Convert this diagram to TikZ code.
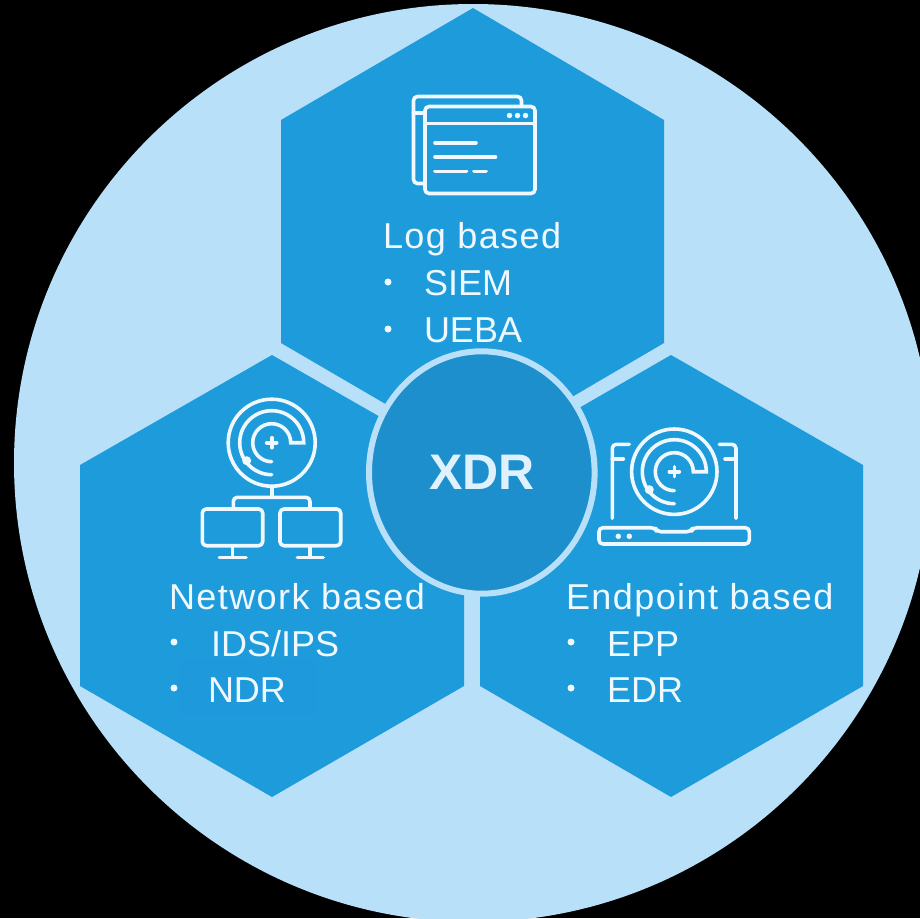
\documentclass[tikz,border=0pt]{standalone}
\usepackage{fontspec}
\usetikzlibrary{shapes.geometric}
\setmainfont{Liberation Sans}
\newfontfamily\titlefont[LetterSpace=4]{Liberation Sans}
\definecolor{bgblue}{HTML}{B8E0F8}
\definecolor{hexblue}{HTML}{1E9BDB}
\definecolor{hubblue}{HTML}{1C8FCC}
\definecolor{patchblue}{HTML}{1D99DC}
\definecolor{ink}{HTML}{EEF8FE}
\definecolor{hubink}{HTML}{DFF1FC}
\tikzset{
  hexcell/.style={fill=hexblue,draw=none},
  icon/.style={draw=ink,line width=3.6pt,line join=round,line cap=round,rounded corners=4pt},
  iconarc/.style={draw=ink,line width=3.6pt,line cap=round},
  label/.style={anchor=base west,text=ink,inner sep=0pt,outer sep=0pt,font=\fontsize{36}{40}\selectfont},
  title/.style={label,font=\titlefont\fontsize{36}{40}\selectfont},
  dotmark/.style={circle,fill=ink,draw=none,minimum size=7pt,inner sep=0pt},
  smalldot/.style={circle,fill=ink,draw=none,minimum size=5.5pt,inner sep=0pt},
}
\newcommand{\radaricon}[3]{%
  \begin{scope}[shift={(#1,#2)},y=1pt]
    \draw[iconarc] (0,0) circle (#3);
    \draw[iconarc] (0,-32) arc (-90:-180:32) arc (180:0:32) -- (19,0) arc (0:180:19) arc (180:270:19);
    \draw[iconarc] (-5,0) -- (5,0) (0,-5) -- (0,5);
    \fill[ink] (-25,-18) circle (4.5);
  \end{scope}}
\begin{document}
\begin{tikzpicture}[x=1pt,y=-1pt]
\useasboundingbox (0,0) rectangle (920,918);
\fill[black] (0,0) rectangle (920,918);
\begin{scope}
  \clip (0,0) rectangle (920,918);
  \fill[bgblue] (473,463) circle (459);
\end{scope}
% hexagons
\fill[hexcell] (473,8) -- (664,120) -- (664,343) -- (473,455) -- (281,343) -- (281,120) -- cycle;
\fill[hexcell] (272,355) -- (464,465) -- (464,686) -- (272,797) -- (80,686) -- (80,465) -- cycle;
\fill[hexcell] (671,355) -- (863,465) -- (863,686) -- (671,797) -- (480,686) -- (480,465) -- cycle;
\fill[patchblue] (178,660) rectangle (318,715);
% hub
\node[ellipse,minimum width=225.6pt,minimum height=242.4pt,inner sep=0pt,fill=hubblue,draw=bgblue,line width=6pt,text=hubink] (hub) at (481.8,472.5)
  {\fontsize{50}{54}\selectfont\bfseries XDR};
% log icon
\draw[icon] (425,113) -- (413.5,113);
\draw[icon] (521.5,106) -- (521.5,96.5) -- (413.5,96.5) -- (413.5,183.5) -- (425,183.5);
\draw[icon] (425,106.5) rectangle (535,193.5);
\draw[icon] (425,123.5) -- (535,123.5);
\node[smalldot] (d1) at (509.5,115.5) {};
\node[smalldot] (d2) at (517.5,115.5) {};
\node[smalldot] (d3) at (525.5,115.5) {};
\draw[icon] (435,142.7) -- (476,142.7) (435,157) -- (495.5,157) (435,171.3) -- (466.5,171.3) (474,171.3) -- (486,171.3);
% network icon
\radaricon{271.7}{442.7}{43.5}
\draw[icon] (271.7,486.5) -- (271.7,497.3);
\draw[icon] (233.3,507) -- (233.3,497.3) -- (310,497.3) -- (310,507);
\draw[icon] (202.3,509) rectangle (262.7,545.7);
\draw[icon] (280,509) rectangle (340.7,545.7);
\draw[icon] (232.3,546) -- (232.3,557.3) (219.3,557.3) -- (246,557.3);
\draw[icon] (310,546) -- (310,557.3) (297.3,557.3) -- (323.3,557.3);
% endpoint icon
\radaricon{674.3}{471.7}{42.7}
\draw[icon] (612.3,518.3) -- (612.3,444.3) -- (629.3,444.3);
\draw[icon] (612.3,459) -- (623.3,459);
\draw[icon] (736,518.3) -- (736,444.3) -- (719.3,444.3);
\draw[icon] (725,459) -- (736,459);
\draw[icon] (599,527.7) -- (655,527.7) -- (657,531.7) -- (691,531.7) -- (693,527.7) -- (749.3,527.7) -- (749.3,544) -- (599,544) -- cycle;
\node[smalldot] (p1) at (618.3,536.3) {};
\node[smalldot] (p2) at (629.3,536.3) {};
% labels: log
\node[title] (logt) at (383,248) {Log based};
\node[dotmark] (logb1) at (388,282) {};
\node[label] (siem) at (424,295) {SIEM};
\node[dotmark] (logb2) at (388,329) {};
\node[label] (ueba) at (424,342) {UEBA};
% labels: network
\node[title] (nett) at (169,609) {Network based};
\node[dotmark] (netb1) at (174,642) {};
\node[label] (ids) at (211,656) {IDS/IPS};
\node[dotmark] (netb2) at (174,688) {};
\node[label] (ndr) at (208,702) {NDR};
% labels: endpoint
\node[title] (endt) at (566,609) {Endpoint based};
\node[dotmark] (endb1) at (571,642) {};
\node[label] (epp) at (607,656) {EPP};
\node[dotmark] (endb2) at (571,688) {};
\node[label] (edr) at (607,702) {EDR};
\end{tikzpicture}
\end{document}
